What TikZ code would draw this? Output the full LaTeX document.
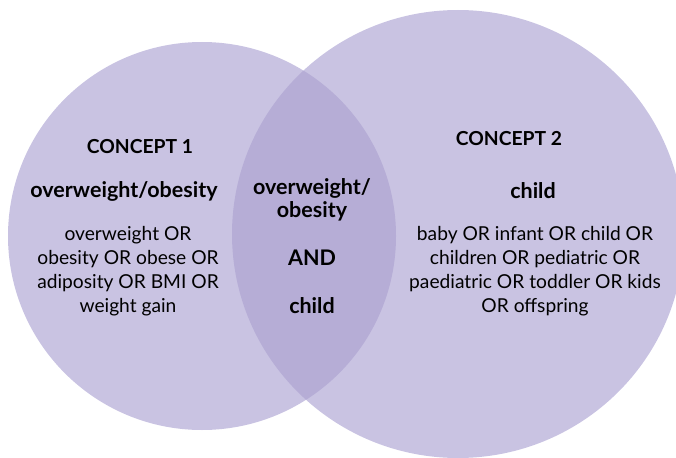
\documentclass[tikz,border=0pt]{standalone}
\usepackage{fontspec}
\setmainfont{Lato}
\definecolor{setfill}{HTML}{C9C3E2}
\definecolor{lensfill}{HTML}{B6ADD6}
\begin{document}
\begin{tikzpicture}[x=1pt, y=-1pt,
  every node/.style={inner sep=0pt, align=center, text=black},
  headtxt/.style={font=\fontsize{19.3}{23}\selectfont\bfseries},
  termtxt/.style={font=\fontsize{21.5}{23}\selectfont\bfseries},
  bodytxt/.style={font=\fontsize{19.2}{24}\selectfont}]
\useasboundingbox (0,0) rectangle (676,457);
% the two sets
\fill [setfill] (202,236) circle (194);
\fill [setfill] (458,234) ellipse (226 and 224);
\begin{scope}
\clip (202,236) circle (194);
\fill [lensfill] (458,234) ellipse (226 and 224);
\end{scope}
% concept 1
\node [headtxt] (c1head) at (140,147) {CONCEPT 1};
\node [termtxt] (c1term) at (124,191) {overweight/obesity};
\node [bodytxt] (c1body) at (128,271) {overweight OR\\obesity OR obese OR\\adiposity OR BMI OR\\weight gain};
% overlap
\node [termtxt] (bothterm) at (312,200) {overweight/\\obesity};
\node [termtxt] (andop) at (312,258) {AND};
\node [termtxt] (bothchild) at (312,306) {child};
% concept 2
\node [headtxt] (c2head) at (509,139) {CONCEPT 2};
\node [termtxt] (c2term) at (533,191) {child};
\node [bodytxt] (c2body) at (535,271) {baby OR infant OR child OR\\children OR pediatric OR\\paediatric OR toddler OR kids\\OR offspring};
\end{tikzpicture}
\end{document}
